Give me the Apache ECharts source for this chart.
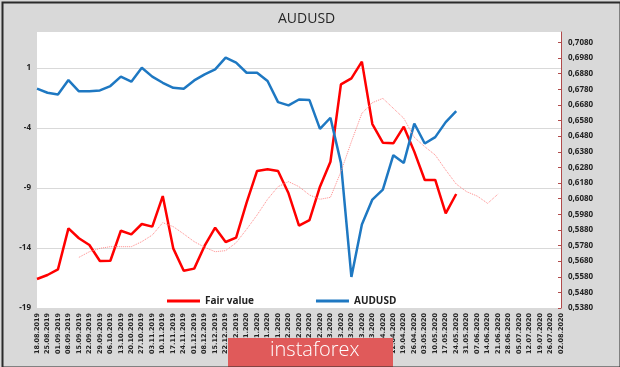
<!DOCTYPE html>
<html><head><meta charset="utf-8">
<script src="https://cdn.jsdelivr.net/npm/echarts@6/dist/echarts.min.js"></script>
<style>html,body{margin:0;padding:0;background:#d9d9d9}#c{width:620px;height:367px}</style>
</head><body><div id="c"></div>
<script>
const categories = ["18.08.2019","25.08.2019","01.09.2019","08.09.2019","15.09.2019","22.09.2019","29.09.2019","06.10.2019","13.10.2019","20.10.2019","27.10.2019","03.11.2019","10.11.2019","17.11.2019","24.11.2019","01.12.2019","08.12.2019","15.12.2019","22.12.2019","29.12.2019","05.01.2020","12.01.2020","19.01.2020","26.01.2020","02.02.2020","09.02.2020","16.02.2020","23.02.2020","01.03.2020","08.03.2020","15.03.2020","22.03.2020","29.03.2020","05.04.2020","12.04.2020","19.04.2020","26.04.2020","03.05.2020","10.05.2020","17.05.2020","24.05.2020","31.05.2020","07.06.2020","14.06.2020","21.06.2020","28.06.2020","05.07.2020","12.07.2020","19.07.2020","26.07.2020","02.08.2020"];
const fairValue = [-16.58,-16.25,-15.78,-12.36,-13.19,-13.75,-15.08,-15.06,-12.56,-12.86,-12.0,-12.22,-9.67,-14.03,-15.89,-15.72,-13.81,-12.31,-13.5,-13.14,-10.22,-7.58,-7.44,-7.58,-9.44,-12.14,-11.67,-8.89,-6.81,-0.36,0.14,1.53,-3.67,-5.22,-5.28,-3.89,-5.97,-8.33,-8.33,-11.11,-9.5];
const audusd = [0.6784,0.6758,0.6747,0.6839,0.6767,0.6767,0.6773,0.6801,0.6861,0.6829,0.6918,0.6861,0.6822,0.6790,0.6784,0.6837,0.6876,0.6908,0.6983,0.6951,0.6886,0.6886,0.6833,0.6698,0.6677,0.6715,0.6711,0.6527,0.6598,0.6309,0.5579,0.5914,0.6074,0.6138,0.6358,0.6309,0.6561,0.6433,0.6474,0.6570,0.6640];
const fairValueAvg = [null,null,null,null,-14.78,-14.31,-14.03,-13.89,-13.89,-13.89,-13.47,-12.92,-11.89,-12.22,-12.83,-13.47,-13.94,-14.31,-14.22,-13.56,-12.44,-11.25,-9.94,-8.89,-8.47,-8.89,-9.58,-9.94,-9.78,-7.64,-5.14,-2.78,-1.89,-1.53,-2.36,-3.19,-4.78,-5.56,-6.25,-7.5,-8.67,-9.31,-9.67,-10.28,-9.5];
const leftTicks = {min:-19, max:4, interval:5};
const rightTicks = {min:0.538, max:0.7147, interval:0.01};

const chart = echarts.init(document.getElementById('c'), null, {renderer:'canvas'});
chart.setOption({
  animation:false,
  backgroundColor:'#d9d9d9',
  title:{text:'AUDUSD', left:273, top:7, textStyle:{fontFamily:'Open Sans', fontSize:14, fontWeight:'normal', color:'#262626'}},
  legend:{data:['Fair value','AUDUSD'], left:162, top:291, itemWidth:33, itemHeight:3, itemGap:62, icon:'rect',
    textStyle:{fontFamily:'Open Sans', fontSize:10, fontWeight:'bold', color:'#222'}},
  grid:{left:37, right:59, top:32, bottom:59, show:true, backgroundColor:'#ffffff', borderWidth:0},
  xAxis:{type:'category', data:categories, boundaryGap:false,
    axisLine:{show:false}, axisTick:{show:false},
    axisLabel:{rotate:90, interval:0, margin:5, fontFamily:'DejaVu Sans', fontSize:6.5, fontWeight:'bold', color:'#222'}},
  yAxis:[
    {type:'value', position:'left', min:leftTicks.min, max:leftTicks.max, interval:leftTicks.interval,
     axisLine:{show:false}, axisTick:{show:false},
     axisLabel:{showMaxLabel:false, margin:6, fontFamily:'Open Sans', fontSize:8, fontWeight:'bold', color:'#222'},
     splitLine:{show:true, showMaxLine:false, lineStyle:{color:'#d9d9d9', width:1}}},
    {type:'value', position:'right', min:rightTicks.min, max:rightTicks.max, interval:rightTicks.interval,
     axisLine:{show:true, lineStyle:{color:'#b04a4a', width:1}},
     axisTick:{show:true, inside:true, length:3, lineStyle:{color:'#b04a4a'}},
     axisLabel:{showMaxLabel:false, margin:7, fontFamily:'Open Sans', fontSize:8, fontWeight:'bold', color:'#222',
       formatter:v=>v.toFixed(4).replace('.',',')},
     splitLine:{show:false}}
  ],
  series:[
    {name:'Fair value', type:'line', yAxisIndex:0, data:fairValue, showSymbol:false, symbol:'none',
     lineStyle:{color:'#ff0000', width:2.5}, itemStyle:{color:'#ff0000'}},
    {name:'AUDUSD', type:'line', yAxisIndex:1, data:audusd, showSymbol:false, symbol:'none',
     lineStyle:{color:'#1e78c2', width:2.5}, itemStyle:{color:'#1e78c2'}},
    {name:'Fair value avg', type:'line', yAxisIndex:0, data:fairValueAvg, showSymbol:false, symbol:'none',
     lineStyle:{color:'#ff8a8a', width:1, type:'dotted'}, itemStyle:{color:'#ff8a8a'}}
  ],
  graphic:[
    {type:'rect', z:100, left:228, top:338, shape:{width:165, height:29}, style:{fill:'#e05a5a'}, silent:true},
    {type:'text', z:101, left:270, top:340, style:{text:'instaforex', fill:'#ffffff', font:'300 20px "Open Sans"'}, silent:true},
    {type:'rect', z:102, left:0, top:0, shape:{x:1,y:1,width:618,height:365}, style:{fill:'none', stroke:'#2b2b2b', lineWidth:2}, silent:true}
  ]
});
</script></body></html>
